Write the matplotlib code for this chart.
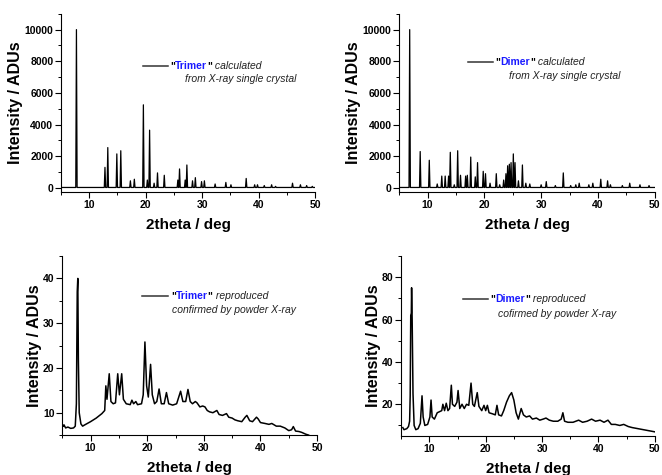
import numpy as np
import matplotlib.pyplot as plt
from matplotlib.ticker import MultipleLocator

plt.rcParams['font.family'] = ['Liberation Sans', 'DejaVu Sans']

# calculated patterns: peak position (2theta) and height (ADUs)
trimer_calc_pos = [7.75, 12.8, 13.3, 14.9, 15.6, 17.3, 18.0, 19.6, 20.3, 20.7, 21.5, 22.1,
                   23.3, 25.7, 26.0, 27.0, 27.3, 28.3, 28.8, 29.9, 30.4, 32.3, 34.2, 35.1,
                   37.8, 39.3, 39.8, 41.0, 42.3, 43.0, 46.0, 47.4, 48.5, 49.5]
trimer_calc_int = [10000, 1300, 2550, 2150, 2350, 450, 550, 5250, 500, 3650, 300, 950,
                   800, 500, 1200, 500, 1450, 450, 650, 400, 450, 250, 350, 200,
                   600, 200, 200, 150, 200, 100, 300, 200, 150, 100]

dimer_calc_pos = [6.85, 8.7, 10.3, 11.7, 12.5, 13.1, 13.7, 14.0, 14.7, 15.3, 15.8, 16.7,
                  17.0, 17.6, 18.4, 18.8, 19.8, 20.2, 21.0, 22.1, 22.7, 23.4, 23.8, 24.1,
                  24.4, 24.7, 25.1, 25.4, 26.0, 26.7, 27.3, 28.0, 30.0, 30.9, 32.5, 33.9,
                  35.2, 36.1, 36.7, 38.4, 39.1, 40.5, 41.7, 42.2, 44.3, 45.6, 47.4, 49.0]
dimer_calc_int = [10000, 2300, 1750, 250, 750, 750, 750, 2250, 200, 2350, 800, 750,
                  800, 1950, 700, 1600, 1050, 900, 300, 900, 200, 500, 900, 1400,
                  1500, 1600, 2150, 1600, 450, 1450, 300, 250, 200, 400, 150, 950,
                  150, 200, 300, 200, 300, 550, 450, 200, 150, 300, 200, 150]

# powder patterns
trimer_pow_x = [5.2, 5.3, 5.6, 6.0, 6.5, 7.0, 7.3, 7.5, 7.65, 7.75, 7.85, 8.0, 8.3, 8.6, 9.0,
                10.0, 11.0, 12.0, 12.5, 12.7, 12.9, 13.3, 13.6, 14.0, 14.4, 14.8, 15.1, 15.5,
                15.8, 16.3, 17.0, 17.3, 17.6, 18.0, 18.3, 19.0, 19.3, 19.6, 19.9, 20.2, 20.6,
                20.9, 21.3, 21.7, 22.1, 22.5, 23.0, 23.4, 23.8, 24.5, 25.2, 25.9, 26.3, 26.8,
                27.2, 27.6, 28.0, 28.5, 28.8, 29.3, 29.8, 30.2, 30.6, 31.0, 31.6, 32.3, 32.7,
                33.3, 34.0, 34.4, 35.0, 35.5, 36.0, 36.7, 37.3, 37.6, 38.1, 38.6, 39.3, 39.6,
                40.0, 40.8, 41.5, 42.0, 42.8, 43.5, 44.3, 45.0, 45.5, 45.8, 46.2, 46.8, 47.3,
                48.0, 48.5]
trimer_pow_y = [7.0, 7.3, 6.6, 6.8, 6.5, 6.6, 7.0, 12, 37, 40, 22, 10, 7.5, 7.0, 7.3,
                8.0, 8.8, 9.8, 10.5, 16, 13, 18.7, 12.5, 12.0, 12.2, 18.7, 14, 18.7,
                13, 12, 11.8, 12.8, 12, 12.5, 11.8, 12, 14, 25.8, 16, 13.5, 20.8,
                14, 12, 12.5, 15.3, 12, 12, 14.5, 12, 11.7, 12, 14.8, 12.5, 12.5,
                15.2, 12.5, 12, 12.5, 12.2, 11.3, 11.5, 11.3, 10.5, 10.2, 10, 10.5, 9.6,
                9.4, 9.8, 9, 8.8, 8.4, 8.2, 8, 9, 9.4, 8.2, 8, 9, 8.6,
                7.8, 7.6, 7.4, 7.6, 7.0, 7.0, 6.6, 6.0, 6.2, 6.9, 5.9, 5.8, 5.6,
                5.2, 5.0]

dimer_pow_x = [5.3, 5.5, 6.0, 6.3, 6.5, 6.6, 6.7, 6.8, 6.85, 6.95, 7.1, 7.3, 7.6, 8.0, 8.4,
               8.7, 8.9, 9.2, 9.7, 10.1, 10.3, 10.5, 10.9, 11.4, 11.8, 12.2, 12.4, 12.7,
               13.0, 13.3, 13.6, 13.9, 14.1, 14.5, 14.9, 15.1, 15.4, 15.8, 16.2, 16.6, 17.0,
               17.4, 17.7, 18.0, 18.5, 18.8, 19.3, 19.7, 20.0, 20.3, 20.6, 21.2, 21.7, 22.0,
               22.3, 22.8, 23.2, 23.7, 24.2, 24.6, 25.0, 25.4, 25.8, 26.3, 26.7, 27.2, 27.8,
               28.3, 29.0, 29.6, 30.2, 30.7, 31.3, 32.0, 32.8, 33.4, 33.7, 34.0, 34.6, 35.5,
               36.5, 37.2, 38.0, 38.8, 39.5, 40.3, 41.0, 41.7, 42.3, 43.0, 43.8, 44.5, 45.3,
               46.0, 47.0, 48.0, 49.0, 50.0]
dimer_pow_y = [9, 8, 8.5, 9.5, 12, 24, 62, 63, 75, 60, 25, 10, 8, 8.5, 11,
               24, 14, 10, 10.5, 14, 22, 14, 13, 16, 16.5, 17, 20, 17,
               20.5, 17, 18, 29, 20, 19, 21, 26.5, 18, 20, 18, 20, 19.5,
               30, 20, 19, 25.5, 19, 17, 19.5, 17, 19.5, 16, 15.5, 15, 19.5,
               15, 14.5, 17, 21, 24, 25.5, 22, 16, 13, 18, 15, 14, 14.5,
               13, 13.5, 12.5, 13, 13.5, 12.5, 12, 12, 13, 16, 12, 11.5, 11.5,
               12.5, 11.5, 12, 13, 12, 12.5, 11.5, 12.5, 10.5, 10.5, 10, 10.5, 9.5,
               9, 8.5, 8, 7.5, 7]


def stick_trace(pos, hgt, hw=0.12):
    xs, ys = [5.0], [30.0]
    for p, h in zip(pos, hgt):
        xs += [p - hw, p, p + hw]
        ys += [30.0, h, 30.0]
    xs.append(50.0)
    ys.append(30.0)
    return xs, ys


def style_axes(ax, ylim, ymaj, ymin):
    ax.set_xlim(5, 50)
    ax.set_ylim(*ylim)
    ax.spines['top'].set_visible(False)
    ax.spines['right'].set_visible(False)
    ax.xaxis.set_major_locator(MultipleLocator(10))
    ax.xaxis.set_minor_locator(MultipleLocator(5))
    ax.yaxis.set_major_locator(MultipleLocator(ymaj))
    ax.yaxis.set_minor_locator(MultipleLocator(ymin))
    ax.tick_params(which='major', direction='out', length=4, width=0.8, labelsize=7.5, pad=1.5)
    ax.tick_params(which='minor', direction='out', length=2.5, width=0.7)
    for lab in ax.get_xticklabels() + ax.get_yticklabels():
        lab.set_fontweight('bold')
    ax.set_xlabel('2theta / deg', fontsize=11, fontweight='bold', labelpad=6)
    ax.set_ylabel('Intensity / ADUs', fontsize=11.5, fontweight='bold', labelpad=1)


def legend(ax, x0, x1, y, y2, x2, name, rest, line2):
    ax.plot([x0, x1], [y, y], color='#333333', lw=1.1, transform=ax.transAxes, clip_on=False)
    t = ax.text(x1 + 0.01, y, '"', transform=ax.transAxes, fontsize=7.5,
                fontweight='bold', va='center', ha='left')
    t = ax.annotate(name, xy=(1, 0), xycoords=t, va='bottom', ha='left', fontsize=7.5,
                    fontweight='bold', color='#1a1aff')
    t = ax.annotate('"', xy=(1, 0), xycoords=t, va='bottom', ha='left', fontsize=7.5,
                    fontweight='bold')
    ax.annotate(rest, xy=(1, 0), xycoords=t, va='bottom', ha='left', fontsize=7.5,
                style='italic', color='#222222')
    ax.text(x2, y2, line2, transform=ax.transAxes, fontsize=7.5, style='italic',
            color='#222222', va='center', ha='left')


fig = plt.figure(figsize=(6.62, 4.75), dpi=100)

ax1 = fig.add_axes([0.092, 0.596, 0.384, 0.375])
x, y = stick_trace(trimer_calc_pos, trimer_calc_int)
ax1.plot(x, y, color='black', lw=0.9)
style_axes(ax1, (-250, 11000), 2000, 1000)
legend(ax1, 0.323, 0.421, 0.708, 0.635, 0.49, 'Trimer', ' calculated',
       'from X-ray single crystal')

ax2 = fig.add_axes([0.603, 0.596, 0.386, 0.375])
x, y = stick_trace(dimer_calc_pos, dimer_calc_int)
ax2.plot(x, y, color='black', lw=0.9)
style_axes(ax2, (-250, 11000), 2000, 1000)
legend(ax2, 0.270, 0.367, 0.730, 0.652, 0.43, 'Dimer', ' calculated',
       'from X-ray single crystal')

ax3 = fig.add_axes([0.094, 0.084, 0.385, 0.377])
ax3.plot(trimer_pow_x, trimer_pow_y, color='black', lw=1.1)
style_axes(ax3, (5, 45), 10, 5)
legend(ax3, 0.314, 0.416, 0.777, 0.698, 0.43, 'Trimer', ' reproduced',
       'confirmed by powder X-ray')

ax4 = fig.add_axes([0.606, 0.082, 0.383, 0.379])
ax4.plot(dimer_pow_x, dimer_pow_y, color='black', lw=1.1)
style_axes(ax4, (5, 90), 20, 10)
legend(ax4, 0.245, 0.343, 0.761, 0.678, 0.38, 'Dimer', ' reproduced',
       'cofirmed by powder X-ray')

fig.savefig('out.png', dpi=100)
